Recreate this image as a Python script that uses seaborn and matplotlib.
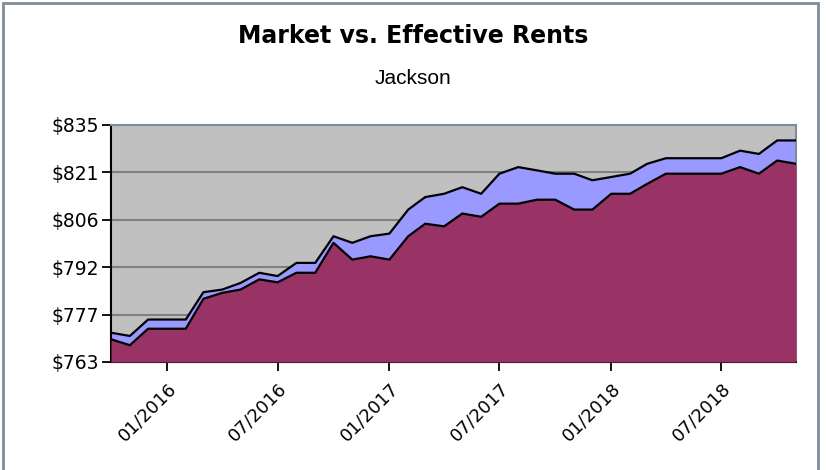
import matplotlib
matplotlib.use("Agg")
import matplotlib.pyplot as plt
import matplotlib.dates as mdates
import numpy as np
import pandas as pd
import seaborn as sns

# Monthly data, Oct 2015 - Nov 2018
months = pd.date_range("2015-10-01", "2018-11-01", freq="MS")
market_rent = [771.9, 770.9, 775.9, 775.9, 775.9, 784.2, 785.0, 787.0, 790.1, 789.1,
               793.1, 793.1, 801.2, 799.2, 801.2, 802.0, 809.3, 813.1, 814.1, 816.1,
               814.1, 820.2, 822.2, 821.2, 820.2, 820.2, 818.2, 819.2, 820.2, 823.2,
               824.9, 824.9, 824.9, 824.9, 827.2, 826.2, 830.3, 830.3]
effective_rent = [769.9, 768.1, 773.1, 773.1, 773.1, 782.2, 784.0, 785.0, 788.1, 787.2,
                  790.1, 790.1, 799.2, 794.1, 795.1, 794.1, 801.2, 805.0, 804.2, 808.1,
                  807.1, 811.1, 811.1, 812.3, 812.3, 809.3, 809.3, 814.1, 814.1, 817.1,
                  820.2, 820.2, 820.2, 820.2, 822.2, 820.2, 824.2, 823.2]
y_min, y_max = 763, 835
x_tick_dates = pd.to_datetime(["2016-01-01", "2016-07-01", "2017-01-01",
                               "2017-07-01", "2018-01-01", "2018-07-01"])

df = pd.DataFrame({"month": months, "Market": market_rent, "Effective": effective_rent})

sns.set_style("white")
plt.rcParams["font.family"] = ["DejaVu Sans"]
plt.rcParams["text.color"] = "black"
plt.rcParams["xtick.color"] = "black"
plt.rcParams["ytick.color"] = "black"

fig = plt.figure(figsize=(8.26, 4.70), dpi=100)
ax = fig.add_axes([0.1344, 0.2298, 0.8293, 0.5043])

ax.set_facecolor("#C0C0C0")
ax.fill_between(df["month"], y_min, df["Market"], color="#9999FF", lw=0, zorder=2)
ax.fill_between(df["month"], y_min, df["Effective"], color="#993366", lw=0, zorder=3)
sns.lineplot(data=df, x="month", y="Market", ax=ax, color="black", lw=1.6, zorder=4)
sns.lineplot(data=df, x="month", y="Effective", ax=ax, color="black", lw=1.6, zorder=4)

yticks = np.linspace(y_min, y_max, 6)
ax.set_ylim(y_min, y_max)
ax.set_yticks(yticks)
ax.set_yticklabels(["${:.0f}".format(v) for v in yticks], fontsize=13.5)
ax.yaxis.grid(True, color="#808080", lw=1.5, zorder=1)
ax.set_axisbelow(True)

ax.set_xlim(months[0], months[-1])
ax.set_xticks(x_tick_dates)
ax.xaxis.set_major_formatter(mdates.DateFormatter("%m/%Y"))
plt.setp(ax.get_xticklabels(), rotation=45, ha="right", rotation_mode="anchor", fontsize=13)
ax.tick_params(axis="both", direction="out", length=6.5, width=1.3, color="black",
               left=True, bottom=True)
ax.tick_params(axis="y", pad=2)
ax.tick_params(axis="x", pad=6)
ax.set_xlabel("")
ax.set_ylabel("")

for side in ["left", "bottom"]:
    ax.spines[side].set_color("black")
    ax.spines[side].set_linewidth(1.5)
for side in ["top", "right"]:
    ax.spines[side].set_color("#7F8C99")
    ax.spines[side].set_linewidth(1.5)

fig.text(0.5, 0.923, "Market vs. Effective Rents", ha="center", va="center",
         fontsize=17, fontweight="bold")
fig.text(0.5, 0.832, "Jackson", ha="center", va="center", fontsize=15,
         family=["Liberation Sans", "DejaVu Sans"])

# outer chart frame
frame = plt.Rectangle((3 / 826, -0.05), 815 / 826, 1.0436, transform=fig.transFigure,
                      fill=False, edgecolor="#7F8C99", lw=2)
fig.patches.append(frame)

fig.savefig("out.png", dpi=100)
